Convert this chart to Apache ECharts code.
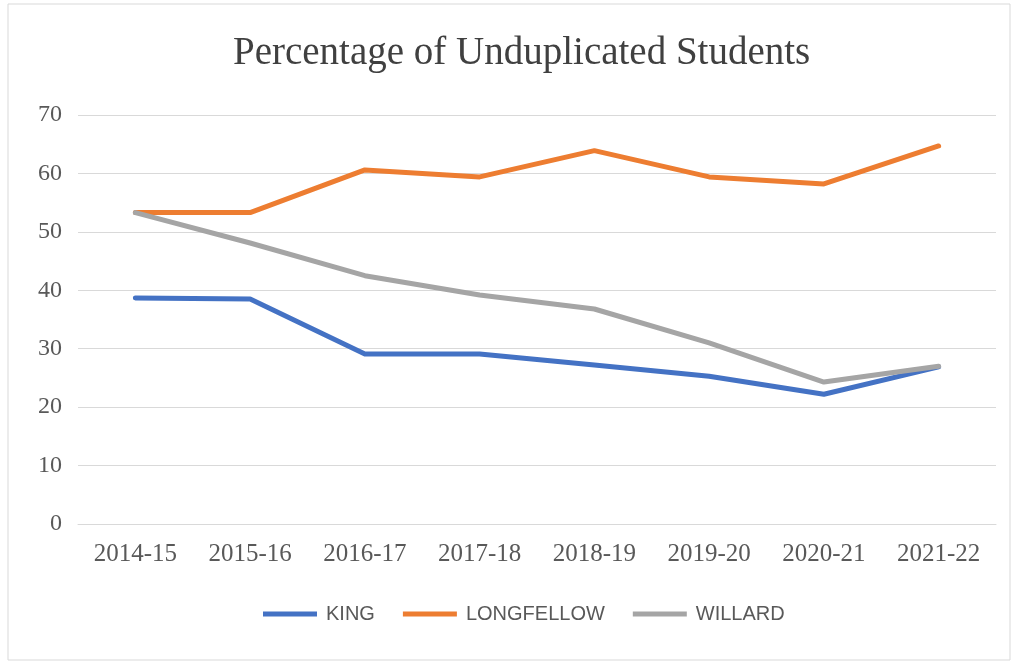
<!DOCTYPE html>
<html>
<head>
<meta charset="utf-8">
<script src="https://cdn.jsdelivr.net/npm/echarts@6/dist/echarts.min.js"></script>
<style>
  html, body { margin: 0; padding: 0; background: #fff; }
  #chart { width: 1017px; height: 664px; }
</style>
</head>
<body>
<div id="chart"></div>
<script>
  // data
  var years = ['2014-15', '2015-16', '2016-17', '2017-18', '2018-19', '2019-20', '2020-21', '2021-22']
  var king = [38.7, 38.5, 29.1, 29.1, 27.2, 25.3, 22.2, 26.9]
  var longfellow = [53.3, 53.3, 60.6, 59.4, 63.9, 59.4, 58.2, 64.7]
  var willard = [53.3, 48.1, 42.5, 39.2, 36.8, 31.0, 24.3, 27.0]

  var seriesNames = ['KING', 'LONGFELLOW', 'WILLARD']
  var seriesData = [king, longfellow, willard]
  var colors = ['#4472C4', '#ED7D31', '#A5A5A5']

  var chart = echarts.init(document.getElementById('chart'))

  var series = seriesNames.map(function (name, i) {
    return {
      name: name,
      type: 'line',
      data: seriesData[i],
      symbol: 'none',
      smooth: false,
      lineStyle: { width: 5, color: colors[i], cap: 'round', join: 'round' },
      itemStyle: { color: colors[i] }
    }
  })

  chart.setOption({
    animation: false,
    color: colors,
    title: {
      text: 'Percentage of Unduplicated Students',
      left: 228,
      top: 29,
      textStyle: {
        fontFamily: 'Liberation Serif',
        fontWeight: 'normal',
        fontSize: 39,
        color: '#404040'
      }
    },
    legend: {
      bottom: 35,
      left: 258,
      icon: 'rect',
      itemWidth: 54,
      itemHeight: 5,
      itemGap: 28,
      data: seriesNames,
      textStyle: {
        fontFamily: 'Liberation Sans',
        fontSize: 20,
        color: '#595959',
        padding: [0, 0, 0, 4]
      }
    },
    grid: {
      left: 78,
      right: 21,
      top: 115,
      bottom: 140,
      containLabel: false
    },
    xAxis: {
      type: 'category',
      data: years,
      boundaryGap: true,
      axisLine: { show: true, lineStyle: { color: '#d9d9d9', width: 1 } },
      axisTick: { show: false },
      axisLabel: {
        margin: 18,
        fontFamily: 'Liberation Serif',
        fontSize: 25,
        color: '#595959'
      }
    },
    yAxis: {
      type: 'value',
      min: 0,
      max: 70,
      interval: 10,
      axisLine: { show: false },
      axisTick: { show: false },
      axisLabel: {
        margin: 16,
        fontFamily: 'Liberation Serif',
        fontSize: 24,
        color: '#595959'
      },
      splitLine: { lineStyle: { color: '#d9d9d9', width: 1 } }
    },
    graphic: [{
      type: 'rect',
      shape: { x: 8, y: 4, width: 1002, height: 656 },
      style: { fill: 'none', stroke: '#d9d9d9', lineWidth: 1 },
      silent: true
    }],
    series: series
  })
</script>
</body>
</html>
